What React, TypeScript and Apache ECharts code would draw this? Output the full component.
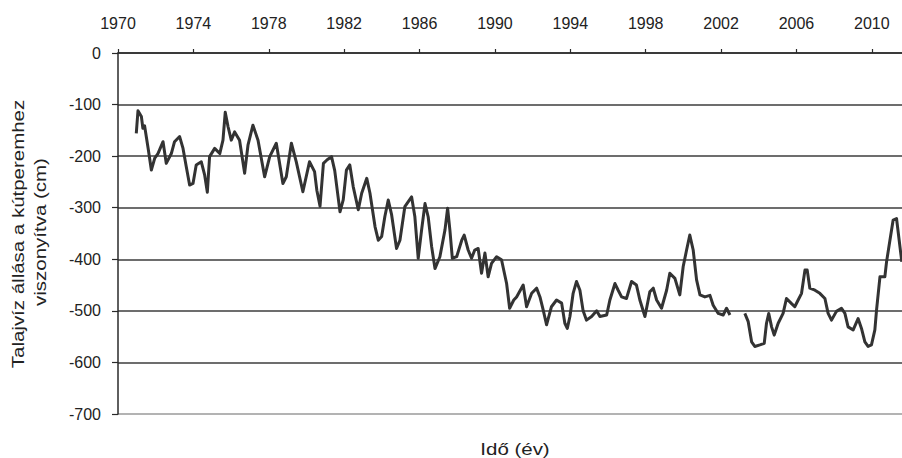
import React, { useEffect, useRef } from "react";
import * as echarts from "echarts";

// Decimal years (time axis) and water level relative to well rim (cm); null = gap in record
const years: number[] = [
  1970.97, 1971.06, 1971.24, 1971.32, 1971.41, 1971.6, 1971.77, 1971.95, 1972.12, 1972.39,
  1972.56, 1972.83, 1973.0, 1973.27, 1973.45, 1973.62, 1973.8, 1973.98, 1974.15, 1974.42,
  1974.6, 1974.74, 1974.86, 1975.13, 1975.4, 1975.57, 1975.69, 1975.84, 1976.01, 1976.19,
  1976.45, 1976.72, 1976.9, 1977.16, 1977.43, 1977.78, 1978.05, 1978.4, 1978.75, 1978.93,
  1979.2, 1979.46, 1979.81, 1980.16, 1980.43, 1980.55, 1980.72, 1980.9, 1981.1, 1981.33,
  1981.5, 1981.78, 1981.95, 1982.12, 1982.3, 1982.48, 1982.75, 1982.93, 1983.2, 1983.37,
  1983.64, 1983.81, 1983.99, 1984.16, 1984.34, 1984.52, 1984.78, 1984.96, 1985.22, 1985.58,
  1985.75, 1985.93, 1986.11, 1986.29, 1986.46, 1986.64, 1986.82, 1987.08, 1987.35, 1987.49,
  1987.61, 1987.74, 1987.97, 1988.24, 1988.37, 1988.58, 1988.76, 1988.93, 1989.11, 1989.29,
  1989.47, 1989.64, 1989.82, 1990.09, 1990.35, 1990.62, 1990.78, 1991.0, 1991.15, 1991.5,
  1991.68, 1991.95, 1992.21, 1992.39, 1992.56, 1992.74, 1993.0, 1993.27, 1993.54, 1993.71,
  1993.84, 1993.98, 1994.15, 1994.33, 1994.51, 1994.68, 1994.86, 1995.13, 1995.4, 1995.57,
  1995.93, 1996.1, 1996.37, 1996.54, 1996.72, 1996.98, 1997.25, 1997.51, 1997.69, 1997.96,
  1998.22, 1998.4, 1998.58, 1998.84, 1999.11, 1999.28, 1999.55, 1999.81, 1999.99, 2000.17,
  2000.34, 2000.52, 2000.7, 2000.88, 2001.14, 2001.41, 2001.58, 2001.85, 2002.11, 2002.29,
  2002.47, 2002.85, 2003.26, 2003.44, 2003.62, 2003.79, 2004.06, 2004.29, 2004.41, 2004.53,
  2004.68, 2004.82, 2005.03, 2005.29, 2005.47, 2005.74, 2005.91, 2006.09, 2006.27, 2006.45,
  2006.57, 2006.71, 2006.98, 2007.24, 2007.51, 2007.68, 2007.86, 2008.12, 2008.39, 2008.57,
  2008.74, 2009.01, 2009.27, 2009.45, 2009.63, 2009.8, 2009.98, 2010.16, 2010.25, 2010.43,
  2010.69, 2010.78, 2010.96, 2011.13, 2011.31, 2011.45, 2011.59,
];

const levels: (number | null)[] = [
  -156, -112, -123, -146, -141, -185, -227, -204, -195, -172,
  -214, -195, -172, -162, -185, -220, -256, -253, -217, -211,
  -237, -270, -201, -185, -195, -169, -115, -143, -169, -153,
  -169, -233, -178, -140, -169, -240, -201, -175, -253, -240,
  -175, -211, -269, -211, -230, -266, -297, -214, -207, -201,
  -228, -308, -285, -227, -217, -259, -304, -272, -243, -272,
  -337, -363, -356, -317, -285, -314, -379, -363, -298, -279,
  -317, -398, -343, -292, -318, -375, -418, -395, -343, -301,
  -343, -398, -395, -363, -353, -382, -398, -382, -379, -427,
  -388, -434, -408, -395, -401, -447, -495, -479, -473, -450,
  -492, -466, -456, -473, -498, -527, -492, -479, -485, -524,
  -534, -511, -466, -443, -460, -500, -518, -511, -500, -511,
  -508, -479, -447, -460, -473, -476, -443, -450, -479, -511,
  -463, -456, -479, -495, -460, -427, -437, -469, -414, -382,
  -353, -382, -440, -469, -473, -470, -489, -505, -508, -495,
  -508, null, -505, -521, -560, -569, -566, -563, -524, -505,
  -531, -547, -524, -505, -476, -486, -492, -479, -466, -421,
  -421, -456, -460, -466, -476, -505, -518, -501, -495, -505,
  -531, -537, -515, -534, -560, -569, -566, -537, -498, -434,
  -434, -405, -363, -324, -321, -363, -405,
];

const yearTicks: number[] = [1970, 1974, 1978, 1982, 1986, 1990, 1994, 1998, 2002, 2006, 2010];
const levelTicks: number[] = [0, -100, -200, -300, -400, -500, -600, -700];

const yTitle1 = "Talajvíz állása a kútperemhez";
const yTitle2 = "viszonyítva (cm)";
const xTitle = "Idő (év)";

const FONT = '"Liberation Sans", Arial, sans-serif';

export default function App() {
  const ref = useRef<HTMLDivElement>(null);

  useEffect(() => {
    if (!ref.current) return;
    const chart = echarts.init(ref.current, null, { renderer: "svg" });
    const data = years.map((y, i) => [y, levels[i] === null ? "-" : levels[i]]);
    const gridColors = levelTicks
      .slice()
      .reverse()
      .map((v) => (v === -700 ? "#9a9a9a" : "#3c3c3c"));

    chart.setOption({
      animation: false,
      backgroundColor: "#ffffff",
      grid: { left: 118, right: 0, top: 53, bottom: 44, containLabel: false },
      xAxis: {
        type: "value",
        position: "top",
        min: yearTicks[0],
        max: 2011.6,
        interval: 4,
        axisLine: { show: true, lineStyle: { color: "#2a2a2a", width: 1.5 } },
        axisTick: { show: true, length: 4, lineStyle: { color: "#2a2a2a", width: 1.2 } },
        axisLabel: {
          show: true,
          margin: 22,
          showMaxLabel: false,
          color: "#222",
          fontSize: 16,
          fontFamily: FONT,
          formatter: (v: number) => (yearTicks.includes(v) ? String(v) : ""),
        },
        splitLine: { show: false },
      },
      yAxis: {
        type: "value",
        min: levelTicks[levelTicks.length - 1],
        max: levelTicks[0],
        interval: 100,
        axisLine: { show: true, onZero: false, lineStyle: { color: "#2a2a2a", width: 1.5 } },
        axisTick: { show: true, length: 6, lineStyle: { color: "#2a2a2a", width: 1.2 } },
        axisLabel: {
          margin: 17,
          color: "#222",
          fontSize: 16,
          fontFamily: FONT,
        },
        splitLine: { show: true, lineStyle: { color: gridColors, width: 1.5 } },
      },
      series: [
        {
          type: "line",
          data,
          showSymbol: false,
          connectNulls: false,
          lineStyle: { color: "#333333", width: 3, join: "round" },
          clip: true,
        },
      ],
      graphic: [
        {
          type: "text",
          x: 18,
          y: 234,
          rotation: Math.PI / 2,
          scaleX: 1.28,
          style: {
            text: yTitle1,
            fill: "#222",
            font: `16px ${FONT}`,
            align: "center",
            verticalAlign: "middle",
          },
        },
        {
          type: "text",
          x: 40,
          y: 232,
          rotation: Math.PI / 2,
          scaleX: 1.28,
          style: {
            text: yTitle2,
            fill: "#222",
            font: `16px ${FONT}`,
            align: "center",
            verticalAlign: "middle",
          },
        },
        {
          type: "text",
          x: 515,
          y: 449,
          scaleX: 1.28,
          style: {
            text: xTitle,
            fill: "#222",
            font: `16px ${FONT}`,
            align: "center",
            verticalAlign: "middle",
          },
        },
      ],
    });
    return () => chart.dispose();
  }, []);

  return (
    <div
      ref={ref}
      style={{ position: "fixed", left: 0, top: 0, width: 902, height: 458, background: "#fff" }}
    />
  );
}
